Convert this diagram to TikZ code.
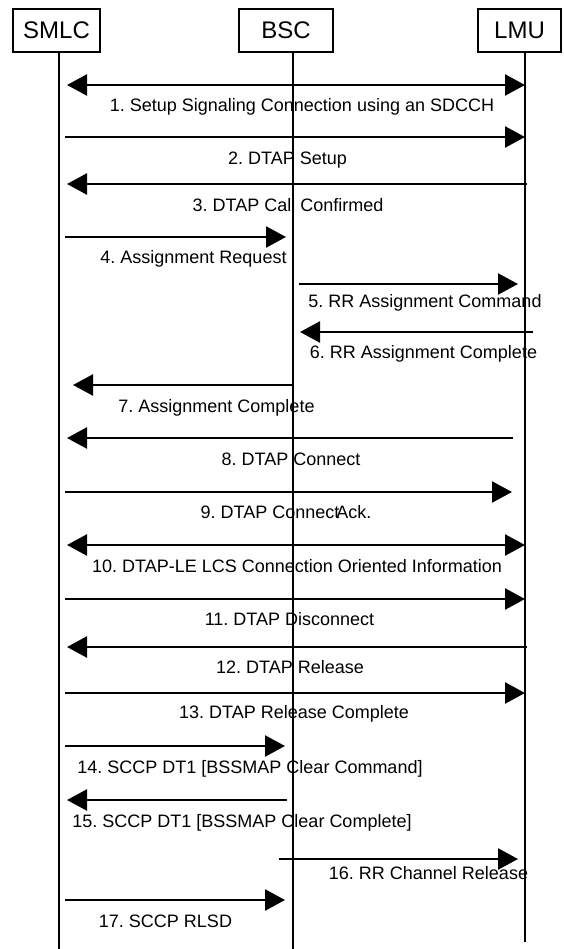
\documentclass[tikz,border=0pt]{standalone}
\usepackage{fontspec}
\setmainfont{Liberation Sans}
\frenchspacing
\usetikzlibrary{arrows.meta}
\tikzset{
  hdr/.style={draw, line width=2pt, inner sep=0pt, minimum height=43pt, font=\fontsize{24}{26}\selectfont},
  life/.style={line width=2pt},
  msg/.style={line width=2.4pt, -{Triangle[length=20pt,width=21pt]}},
  bmsg/.style={line width=2.4pt, {Triangle[length=20pt,width=21pt]}-{Triangle[length=20pt,width=21pt]}},
  lbl/.style={anchor=base, inner sep=0pt, font=\fontsize{18}{20}\selectfont}
}
\begin{document}
\begin{tikzpicture}[x=1pt,y=-1pt]
\useasboundingbox (0,0) rectangle (563,949);
% headers
\node[hdr, minimum width=87pt] (smlc) at (56.5,30.5) {SMLC};
\node[hdr, minimum width=94pt] (bsc) at (286,30.5) {BSC};
\node[hdr, minimum width=83pt] (lmu) at (519.5,30.5) {LMU};
% lifeline ends
\coordinate (se) at (59,949);
\coordinate (be) at (293,949);
\coordinate (le) at (525,942);
\draw[life] (smlc.south -| se) -- (se);
\draw[life] (bsc.south -| be) -- (be);
\draw[life] (lmu.south -| le) -- (le);
% message end points
\coordinate (a1) at (67,85);   \coordinate (b1) at (525,85);
\coordinate (a2) at (65,137);  \coordinate (b2) at (525,137);
\coordinate (a3) at (527,184); \coordinate (b3) at (67,184);
\coordinate (a4) at (65,237);  \coordinate (b4) at (286,237);
\coordinate (a5) at (299,284); \coordinate (b5) at (518,284);
\coordinate (a6) at (533,332); \coordinate (b6) at (300,332);
\coordinate (a7) at (292,385); \coordinate (b7) at (73,385);
\coordinate (a8) at (513,438); \coordinate (b8) at (67,438);
\coordinate (a9) at (65,492);  \coordinate (b9) at (512,492);
\coordinate (a10) at (67,545); \coordinate (b10) at (525,545);
\coordinate (a11) at (65,599); \coordinate (b11) at (525,599);
\coordinate (a12) at (527,647);\coordinate (b12) at (67,647);
\coordinate (a13) at (65,693); \coordinate (b13) at (525,693);
\coordinate (a14) at (65,746); \coordinate (b14) at (285,746);
\coordinate (a15) at (287,800);\coordinate (b15) at (67,800);
\coordinate (a16) at (279,859);\coordinate (b16) at (518,859);
\coordinate (a17) at (65,900); \coordinate (b17) at (285,900);
% arrows
\draw[bmsg] (a1) -- (b1);
\draw[msg] (a2) -- (b2);
\draw[msg] (a3) -- (b3);
\draw[msg] (a4) -- (b4);
\draw[msg] (a5) -- (b5);
\draw[msg] (a6) -- (b6);
\draw[msg] (a7) -- (b7);
\draw[msg] (a8) -- (b8);
\draw[msg] (a9) -- (b9);
\draw[bmsg] (a10) -- (b10);
\draw[msg] (a11) -- (b11);
\draw[msg] (a12) -- (b12);
\draw[msg] (a13) -- (b13);
\draw[msg] (a14) -- (b14);
\draw[msg] (a15) -- (b15);
\draw[msg] (a16) -- (b16);
\draw[msg] (a17) -- (b17);
% labels
\node[lbl] (t1) at (302,112) {1. Setup Signaling Connection using an SDCCH};
\node[lbl] (t2) at (287.5,165) {2. DTAP Setup};
\node[lbl] (t3) at (288,212) {3. DTAP Call Confirmed};
\node[lbl] (t4) at (193.5,264) {4. Assignment Request};
\node[lbl] (t5) at (425,307) {5. RR Assignment Command};
\node[lbl] (t6) at (423.5,358) {6. RR Assignment Complete};
\node[lbl] (t7) at (216.5,412) {7. Assignment Complete};
\node[lbl] (t8) at (291,465) {8. DTAP Connect};
\node[lbl] (t9) at (286,518) {9. DTAP Connect\kern-3pt Ack.};
\node[lbl] (t10) at (297,572) {10. DTAP-LE LCS Connection Oriented Information};
\node[lbl] (t11) at (289.5,625) {11. DTAP Disconnect};
\node[lbl] (t12) at (290,673) {12. DTAP Release};
\node[lbl] (t13) at (294,718) {13. DTAP Release Complete};
\node[lbl] (t14) at (250,773) {14. SCCP DT1 [BSSMAP Clear Command]};
\node[lbl] (t15) at (242,827) {15. SCCP DT1 [BSSMAP Clear Complete]};
\node[lbl] (t16) at (428.5,879) {16. RR Channel Release};
\node[lbl] (t17) at (165.5,927) {17. SCCP RLSD};
\end{tikzpicture}
\end{document}
